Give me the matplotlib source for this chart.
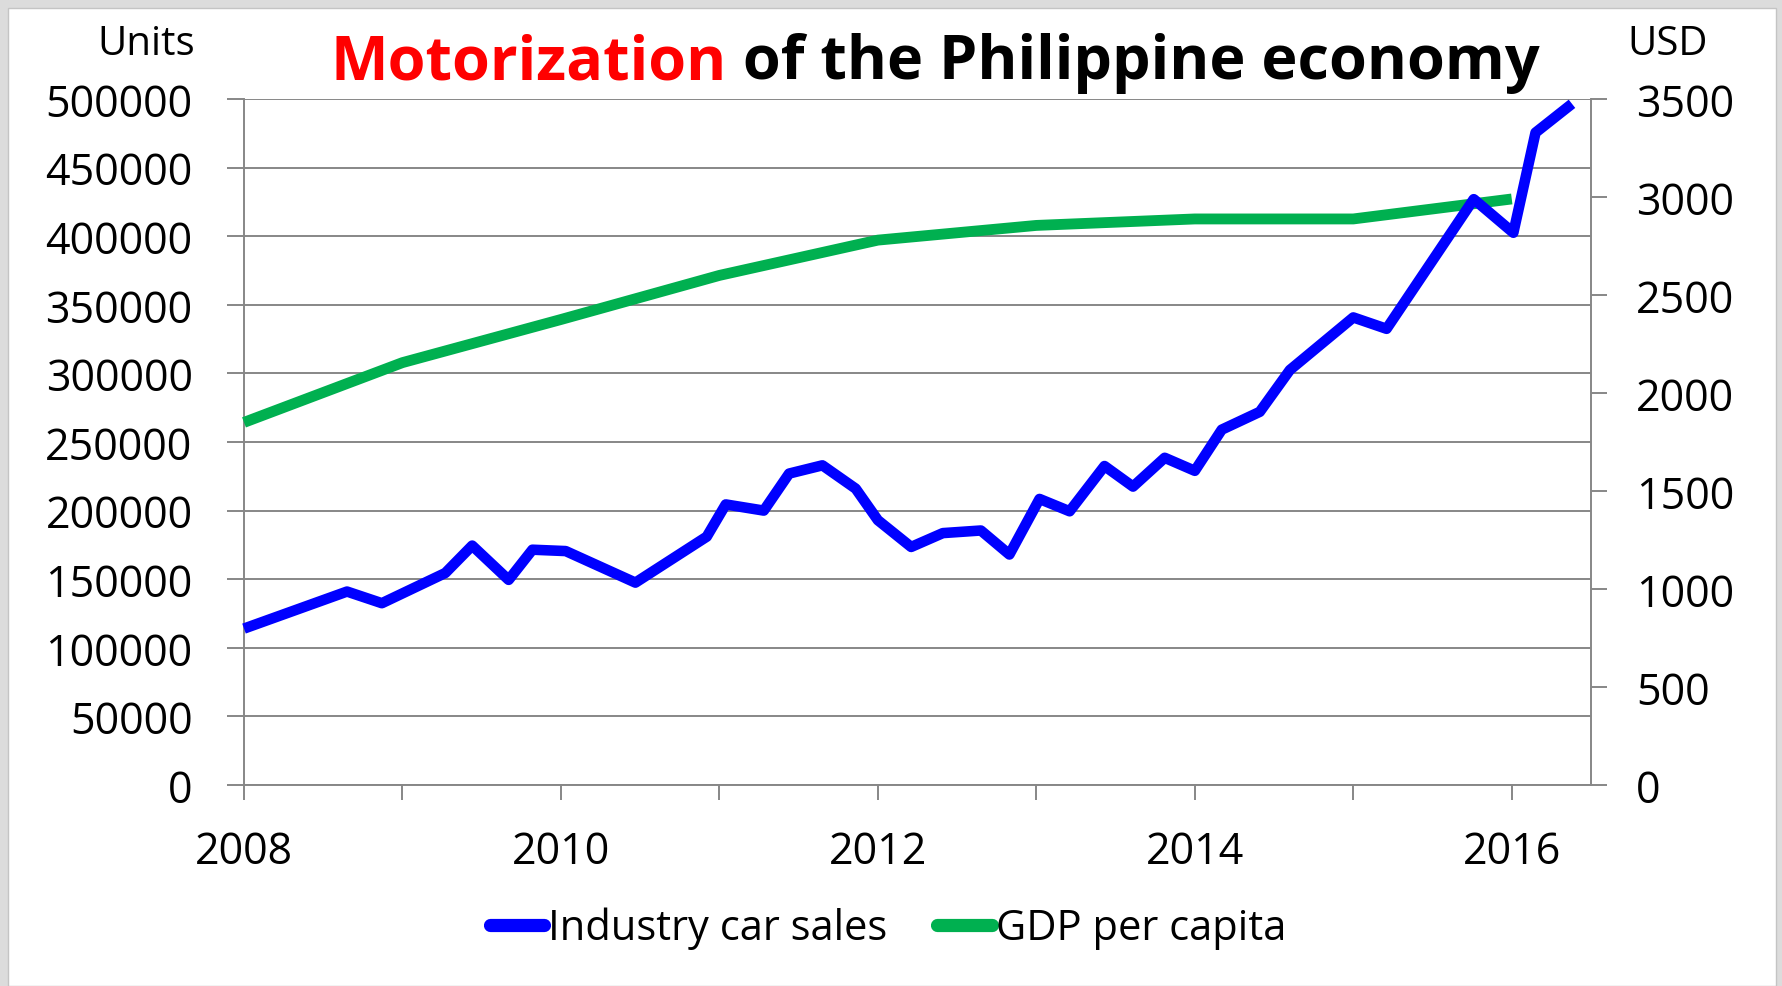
import matplotlib
matplotlib.use('Agg')
import matplotlib.pyplot as plt
from matplotlib.lines import Line2D
from matplotlib.patches import Rectangle

# Industry car sales (units) - vertices, x in fractional years
sales_t = [2008.0, 2008.65, 2008.87, 2009.27, 2009.44, 2009.67, 2009.82, 2010.03,
           2010.47, 2010.92, 2011.04, 2011.28, 2011.44, 2011.65, 2011.86, 2012.0,
           2012.21, 2012.41, 2012.65, 2012.83, 2013.02, 2013.21, 2013.43, 2013.61,
           2013.81, 2014.0, 2014.17, 2014.41, 2014.6, 2015.0, 2015.21, 2015.76,
           2016.01, 2016.15, 2016.38]
sales = [114000, 141000, 132500, 154500, 174500, 149500, 171500, 170500,
         147500, 181000, 204500, 200000, 227000, 233000, 216000, 193000,
         173500, 183600, 185500, 168000, 208500, 199500, 232500, 217500,
         238500, 229000, 259000, 272000, 302500, 340800, 332500, 427000,
         402500, 475500, 496500]

# GDP per capita (USD)
gdp_t = [2008, 2009, 2010, 2011, 2012, 2013, 2014, 2015, 2016]
gdp = [1850, 2155, 2375, 2600, 2780, 2855, 2888, 2888, 2990]

year_ticks = [2008, 2009, 2010, 2011, 2012, 2013, 2014, 2015, 2016]
year_labels = ['2008', '', '2010', '', '2012', '', '2014', '', '2016']
units_ticks = list(range(0, 500001, 50000))
usd_ticks = list(range(0, 3501, 500))

BLUE = '#0000ff'
GREEN = '#00b050'
GRID = '#878787'

plt.rcParams['font.family'] = ['Open Sans', 'DejaVu Sans']

fig = plt.figure(figsize=(17.83, 9.87), dpi=100, facecolor='#dcdcdc')
fig.patches.append(Rectangle((8 / 1783, 0), 1768 / 1783, 1 - 9 / 987,
                             transform=fig.transFigure, facecolor='white',
                             edgecolor='#c4c4c4', lw=1, zorder=-10))

ax1 = fig.add_axes([244 / 1783, 1 - 786 / 987, (1591 - 244) / 1783, (786 - 100) / 987])
ax1.patch.set_visible(False)
ax2 = ax1.twinx()
ax2.set_zorder(ax1.get_zorder() - 1)

# green drawn in ax1 via ax2's data transform so the blue line sits on top
ax1.plot(gdp_t, gdp, color=GREEN, lw=7.8, transform=ax2.transData,
         solid_capstyle='butt', solid_joinstyle='round', zorder=3, clip_on=False)
ax1.plot(sales_t, sales, color=BLUE, lw=7.6,
         solid_capstyle='butt', solid_joinstyle='round', zorder=4, clip_on=False)
ax1.set_xlim(2008, 2016.5)
ax1.set_ylim(0, 500000)
ax2.set_ylim(0, 3500)

ax1.set_yticks(units_ticks)
ax1.set_yticklabels([str(v) for v in units_ticks])
ax2.set_yticks(usd_ticks)
ax2.set_yticklabels([str(v) for v in usd_ticks])
ax1.set_xticks(year_ticks)
ax1.set_xticklabels(year_labels)

ax1.grid(axis='y', color=GRID, lw=1.4, zorder=1)
ax1.set_axisbelow(True)

ax1.tick_params(axis='y', direction='out', length=12, width=1.4, color=GRID,
                pad=25, labelsize=31)
ax1.tick_params(axis='x', direction='out', length=11, width=1.4, color=GRID,
                pad=21, labelsize=31)
ax2.tick_params(axis='y', direction='out', length=11.5, width=1.4, color=GRID,
                pad=21, labelsize=31)

for s in ['top', 'right']:
    ax1.spines[s].set_visible(False)
for s in ['left', 'bottom']:
    ax1.spines[s].set_color(GRID)
    ax1.spines[s].set_linewidth(1.4)
for s in ['top', 'left', 'bottom']:
    ax2.spines[s].set_visible(False)
ax2.spines['right'].set_color(GRID)
ax2.spines['right'].set_linewidth(1.4)

# axis unit labels
fig.text(195 / 1783, 1 - 55 / 987, 'Units', ha='right', va='baseline', fontsize=29)
fig.text(1627 / 1783, 1 - 55 / 987, 'USD', ha='left', va='baseline', fontsize=29)

# two-colour title
t1 = fig.text(331 / 1783, 1 - 79 / 987, 'Motorization', color='#ff0000',
              fontsize=44, fontweight='bold', ha='left', va='baseline')
ax1.annotate(' of the Philippine economy', xy=(1, 0), xycoords=t1,
             ha='left', va='bottom', fontsize=44, fontweight='bold', color='black',
             annotation_clip=False)

handles = [Line2D([], [], color=BLUE, lw=9.5, solid_capstyle='round'),
           Line2D([], [], color=GREEN, lw=9.5, solid_capstyle='round')]
fig.legend(handles, ['Industry car sales', 'GDP per capita'], ncol=2,
           loc='center', bbox_to_anchor=(888 / 1783, 1 - 929 / 987),
           frameon=False, fontsize=30, handlelength=1.3, handletextpad=0.1,
           columnspacing=1.2)

fig.savefig('out.png', dpi=100, facecolor=fig.get_facecolor())
